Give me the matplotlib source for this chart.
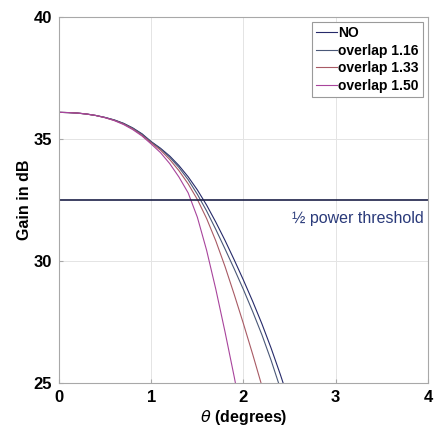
import matplotlib
matplotlib.use("Agg")
import matplotlib.pyplot as plt

plt.rcParams["font.family"] = ["Liberation Sans", "DejaVu Sans"]

# beam gain (dB) vs off-axis angle
theta = [0.0, 0.1, 0.2, 0.3, 0.4, 0.5, 0.6, 0.7, 0.8, 0.9, 1.0, 1.1, 1.2,
         1.3, 1.4, 1.5, 1.6, 1.7, 1.8, 1.9, 2.0, 2.1, 2.2, 2.3, 2.4, 2.5]

gain_no = [36.10, 36.09, 36.07, 36.03, 35.97, 35.89, 35.79, 35.65, 35.46,
           35.22, 34.90, 34.63, 34.31, 33.92, 33.46, 32.92, 32.30, 31.60,
           30.85, 30.05, 29.22, 28.35, 27.43, 26.43, 25.35, 24.20]
gain_116 = [36.10, 36.09, 36.07, 36.03, 35.97, 35.89, 35.78, 35.64, 35.45,
            35.20, 34.88, 34.60, 34.26, 33.84, 33.34, 32.74, 32.06, 31.30,
            30.50, 29.68, 28.83, 27.93, 26.98, 25.93, 24.78, 23.53]
gain_133 = [36.10, 36.09, 36.07, 36.03, 35.97, 35.88, 35.77, 35.62, 35.42,
            35.16, 34.85, 34.55, 34.17, 33.71, 33.17, 32.53, 31.75, 30.83,
            29.78, 28.63, 27.43, 26.18, 24.88, 23.53]
gain_150 = [36.10, 36.09, 36.07, 36.03, 35.97, 35.88, 35.76, 35.60, 35.39,
            35.13, 34.80, 34.45, 34.00, 33.45, 32.80, 31.80, 30.45, 28.85,
            27.10, 25.25, 23.30]

threshold = 32.5

series = [
    ("NO", gain_no, "#262a6a"),
    ("overlap 1.16", gain_116, "#4a5878"),
    ("overlap 1.33", gain_133, "#a85a64"),
    ("overlap 1.50", gain_150, "#a8449c"),
]

fig = plt.figure(figsize=(4.34, 4.30), dpi=100)
ax = fig.add_axes([0.136, 0.109, 0.850, 0.851])

for label, g, color in series:
    ax.plot(theta[:len(g)], g, color=color, linewidth=0.8, label=label)

ax.axhline(threshold, color="#1c2048", linewidth=1.2)
ax.text(2.53, 31.75, "½ power threshold", color="#2a3a7a", fontsize=11.5,
        va="center", ha="left")

ax.set_xlim(0, 4)
ax.set_ylim(25, 40)
ax.set_xticks([0, 1, 2, 3, 4])
ax.set_yticks([25, 30, 35, 40])
ax.grid(True, color="#e4e4e4", linewidth=0.7)
ax.set_axisbelow(True)
for s in ax.spines.values():
    s.set_color("#a8a8a8")
ax.tick_params(direction="in", length=3, color="#a8a8a8", labelsize=12,
               pad=5)
for lab in ax.get_xticklabels() + ax.get_yticklabels():
    lab.set_fontweight("bold")

ax.set_xlabel(r"$\theta$ (degrees)", fontsize=11.5, fontweight="bold",
              labelpad=2)
ax.set_ylabel("Gain in dB", fontsize=11.5, fontweight="bold", labelpad=1)

leg = ax.legend(loc="upper right", prop={"weight": "bold", "size": 10},
                handlelength=1.5, handletextpad=0.1, labelspacing=0.25,
                borderpad=0.3, borderaxespad=0.35, fancybox=False,
                framealpha=1, edgecolor="#9a9a9a")
leg.get_frame().set_linewidth(0.8)

fig.savefig("out.png", dpi=100)
